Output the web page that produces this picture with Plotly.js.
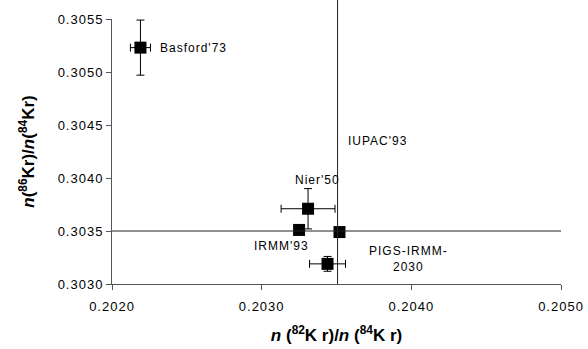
<!DOCTYPE html>
<html>
<head>
<meta charset="utf-8">
<script src="https://cdn.plot.ly/plotly-3.0.1.min.js"></script>
<style>
html,body{margin:0;padding:0;background:#fff;}
#chart{width:588px;height:349px;}
.xtick text, .ytick text, .annotation-text { letter-spacing: 1px; }
</style>
</head>
<body>
<div id="chart"></div>
<script>
// Data
var labels = ["Basford'73", "Nier'50", "IRMM'93", "IUPAC'93", "PIGS-IRMM-<br>2030"];
var ratio82 = [0.20219, 0.20331, 0.20325, 0.20352, 0.20344];
var ratio86 = [0.30523, 0.30371, 0.30351, 0.30349, 0.30319];
var err82 = [0.000067, 0.00018, 0, 0, 0.00012];
var err86 = [0.00026, 0.00019, 0, 0, 0.00007];
var iupacX = 0.203507;
var iupacY = 0.30350;
var iupacLabelY = 0.30435;
var xTicks = [0.2020, 0.2030, 0.2040, 0.2050];
var yTicks = [0.3030, 0.3035, 0.3040, 0.3045, 0.3050, 0.3055];

var trace = {
  type: 'scatter', mode: 'markers',
  x: ratio82, y: ratio86,
  marker: {symbol: 'square', size: 12, color: '#000'},
  error_x: {type: 'data', array: err82, visible: true, color: '#000', thickness: 1, width: 4},
  error_y: {type: 'data', array: err86, visible: true, color: '#000', thickness: 1, width: 4},
  hoverinfo: 'skip', showlegend: false, cliponaxis: false
};

var annotations = [
  {x: ratio82[0], y: ratio86[0], text: labels[0], xanchor: 'left', yanchor: 'middle', xshift: 18, yshift: 0},
  {x: ratio82[1], y: ratio86[1], text: labels[1], xanchor: 'center', yanchor: 'middle', xshift: 9, yshift: 29},
  {x: ratio82[2], y: ratio86[2], text: labels[2], xanchor: 'center', yanchor: 'middle', xshift: -18, yshift: -16},
  {x: iupacX, y: iupacLabelY, text: labels[3], xanchor: 'left', yanchor: 'middle', xshift: 8, yshift: 0},
  {x: ratio82[4], y: ratio86[4], text: labels[4], xanchor: 'center', yanchor: 'middle', xshift: 81, yshift: 5}
].map(function(a){
  a.xref = 'x'; a.yref = 'y'; a.showarrow = false;
  a.font = {family: 'Liberation Sans, Arial, sans-serif', size: 12, color: '#000'};
  a.align = 'center';
  return a;
});

var layout = {
  width: 588, height: 349,
  margin: {l: 112, r: 27, t: 19, b: 65},
  paper_bgcolor: '#fff', plot_bgcolor: '#fff',
  font: {family: 'Liberation Sans, Arial, sans-serif', color: '#000'},
  xaxis: {
    range: [0.2020, 0.2050], tickvals: xTicks, ticktext: xTicks.map(function(v){return v.toFixed(4);}),
    showgrid: false, zeroline: false, showline: true, linecolor: '#555', linewidth: 1,
    ticks: 'outside', ticklen: 5, tickcolor: '#555', ticklabelstandoff: 5,
    tickfont: {size: 13, color: '#000'},
    title: {text: '<i>n</i> (<sup>82</sup>K r)/<i>n</i> (<sup>84</sup>K r)', font: {size: 17, weight: 'bold', color: '#000'}, standoff: 16}
  },
  yaxis: {
    range: [0.3030, 0.3055], tickvals: yTicks, ticktext: yTicks.map(function(v){return v.toFixed(4);}),
    showgrid: false, zeroline: false, showline: true, linecolor: '#555', linewidth: 1,
    ticks: 'outside', ticklen: 5, tickcolor: '#555',
    tickfont: {size: 13, color: '#000'},
    title: {text: '<i>n</i>(<sup>86</sup>Kr)/<i>n</i>(<sup>84</sup>Kr)', font: {size: 17, weight: 'bold', color: '#000'}, standoff: 18}
  },
  shapes: [
    {type: 'line', xref: 'x', yref: 'paper', x0: iupacX, x1: iupacX, y0: 0, y1: 1.072, line: {color: '#222', width: 1}},
    {type: 'line', xref: 'x', yref: 'y', x0: 0.2020, x1: 0.20503, y0: iupacY, y1: iupacY, line: {color: '#222', width: 1}}
  ],
  annotations: annotations
};

Plotly.newPlot('chart', [trace], layout, {staticPlot: true, displayModeBar: false});
</script>
</body>
</html>
